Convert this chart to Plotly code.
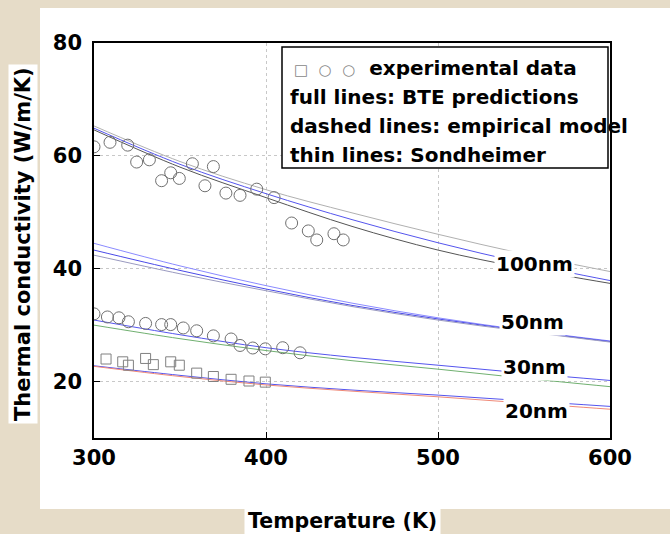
import plotly.graph_objects as go

# ---------------- data ----------------
x_ticks = [300, 400, 500, 600]
x_tick_labels = ["300", "400", "500", "600"]
y_ticks = [20, 40, 60, 80]
y_tick_labels = ["20", "40", "60", "80"]

# experimental data
T_exp_100 = [300, 309.3, 319.6, 324.8, 332.2, 339.3, 344.6, 349.6, 357.2, 364.5,
             369.4, 376.7, 384.9, 394.6, 404.7, 414.9, 424.6, 429.5, 439.5, 444.9]
k_exp_100 = [61.6, 62.4, 61.9, 58.9, 59.3, 55.6, 57.0, 56.0, 58.6, 54.7,
             58.1, 53.4, 53.0, 54.1, 52.6, 48.1, 46.7, 45.1, 46.2, 45.1]

T_exp_30 = [300, 307.8, 314.5, 320, 330, 339.3, 344.6, 351.9, 359.7, 369.4,
            379.7, 384.9, 392.3, 399.6, 409.7, 419.8]
k_exp_30 = [32.0, 31.45, 31.3, 30.6, 30.3, 30.1, 30.1, 29.5, 29.0, 28.1,
            27.55, 26.4, 25.95, 25.8, 26.0, 25.1]

T_exp_20 = [307, 316.7, 320, 330, 334.5, 344.6, 349.6, 359.7, 369.4, 379.7, 390.1, 399.6]
k_exp_20 = [24.0, 23.5, 22.9, 24.1, 23.0, 23.5, 22.9, 21.5, 20.9, 20.4, 20.1, 19.9]

# model curves
T_line = [300, 350, 400, 450, 500, 550, 600]
k100_a = [65.3, 59.0, 54.0, 49.9, 46.1, 42.6, 39.5]
k100_b = [64.9, 58.5, 53.3, 48.7, 44.6, 41.0, 37.9]
k100_c = [64.6, 58.0, 52.6, 47.5, 43.3, 40.1, 37.4]

k50_a = [44.5, 40.5, 37.0, 33.9, 31.3, 29.1, 27.2]
k50_b = [43.3, 39.7, 36.4, 33.5, 31.1, 29.0, 27.1]
k50_c = [42.4, 39.1, 36.1, 33.3, 30.9, 28.9, 27.0]

k30_a = [30.9, 28.3, 26.0, 24.3, 22.9, 21.5, 20.2]
k30_b = [30.0, 27.6, 25.5, 23.7, 22.2, 20.6, 19.1]

k20_a = [22.8, 21.1, 19.6, 18.5, 17.6, 16.6, 15.6]
k20_b = [22.7, 20.9, 19.4, 18.3, 17.3, 16.2, 15.1]

size_labels = ["100nm", "50nm", "30nm", "20nm"]
size_label_T = [556, 555, 556, 557]
size_label_k = [40.9, 30.6, 22.5, 14.7]

legend_lines = [
    "experimental data",
    "full lines: BTE predictions",
    "dashed lines: empirical model",
    "thin lines: Sondheimer",
]

# ---------------- figure ----------------
FONT = "DejaVu Sans"
BG = "#E6DCC8"
fig = go.Figure()

def add_line(y, color, width=1.0):
    fig.add_trace(go.Scatter(x=T_line, y=y, mode="lines", line=dict(color=color, width=width, shape="spline"),
                             showlegend=False, hoverinfo="skip"))

add_line(k100_a, "#b0b0b0")
add_line(k100_b, "#5555ee")
add_line(k100_c, "#555555")
add_line(k50_a, "#8a8aff")
add_line(k50_b, "#4a4ae8")
add_line(k50_c, "#9a9ac0")
add_line(k30_a, "#5555ee")
add_line(k30_b, "#70b070")
add_line(k20_a, "#5555ee")
add_line(k20_b, "#f08a78")

mk_circle = dict(symbol="circle-open", size=12, color="#707070", line=dict(width=1, color="#707070"))
mk_square = dict(symbol="square-open", size=10, color="#808080", line=dict(width=1, color="#808080"))
fig.add_trace(go.Scatter(x=T_exp_100, y=k_exp_100, mode="markers", marker=mk_circle, showlegend=False))
fig.add_trace(go.Scatter(x=T_exp_30, y=k_exp_30, mode="markers", marker=mk_circle, showlegend=False))
fig.add_trace(go.Scatter(x=T_exp_20, y=k_exp_20, mode="markers", marker=mk_square, showlegend=False))

# plot pixel geometry: x 94..610, y 43..438
L, R, T, B = 94, 610, 43, 438
W, H = R - L, B - T
def px(x):
    return (x - L) / W
def py(y):
    return (B - y) / H

shapes = [
    dict(type="rect", xref="paper", yref="paper", x0=px(40), x1=px(672), y0=py(509), y1=py(8),
         fillcolor="white", line=dict(width=0), layer="below"),
    dict(type="rect", xref="paper", yref="paper", x0=px(282), x1=px(608), y0=py(168), y1=py(47),
         fillcolor="white", line=dict(color="black", width=1.5), layer="above"),
]

annotations = []
for lbl, tx, ky in zip(size_labels, size_label_T, size_label_k):
    annotations.append(dict(x=tx, y=ky, xref="x", yref="y", text=lbl, showarrow=False,
                            xanchor="center", yanchor="middle",
                            font=dict(family=FONT, size=20, color="black", weight="bold"),
                            bgcolor="white", borderpad=1))

leg_y = [68, 97, 126, 155]
annotations.append(dict(x=px(292), y=py(leg_y[0]), xref="paper", yref="paper", xanchor="left", yanchor="middle",
                        text='<span style="color:#888888;font-size:15px">□  ○  ○</span>  ' + legend_lines[0],
                        showarrow=False,
                        font=dict(family=FONT, size=20, color="black", weight="bold")))
for t, yy in zip(legend_lines[1:], leg_y[1:]):
    annotations.append(dict(x=px(288), y=py(yy), xref="paper", yref="paper", xanchor="left", yanchor="middle",
                            text=t, showarrow=False,
                            font=dict(family=FONT, size=20, color="black", weight="bold")))

annotations.append(dict(x=px(23), y=py(244), xref="paper", yref="paper", text="Thermal conductivity (W/m/K)",
                        xanchor="center", yanchor="middle",
                        textangle=-90, showarrow=False, bgcolor="white", borderpad=2,
                        font=dict(family=FONT, size=21, color="black", weight="bold")))
annotations.append(dict(x=px(342), y=py(521), xref="paper", yref="paper", text="Temperature (K)",
                        xanchor="center", yanchor="middle",
                        showarrow=False, bgcolor="white", borderpad=3,
                        font=dict(family=FONT, size=20.5, color="black", weight="bold")))

fig.update_layout(
    width=670, height=534,
    margin=dict(l=L, r=670 - R, t=T, b=534 - B, pad=0),
    paper_bgcolor=BG, plot_bgcolor="white",
    shapes=shapes, annotations=annotations,
    font=dict(family=FONT, size=20, color="black", weight="bold"),
)
fig.update_xaxes(range=[300, 600], tickvals=x_ticks, ticktext=x_tick_labels,
                 showline=True, mirror=True, linecolor="black", linewidth=1.5,
                 ticks="inside", ticklen=6, tickcolor="black",
                 showgrid=True, gridcolor="#c8c8c8", griddash="dot", gridwidth=1, zeroline=False,
                 tickfont=dict(family=FONT, size=21, weight="bold"))
fig.update_yaxes(range=[10, 80], tickvals=y_ticks, ticktext=y_tick_labels,
                 showline=True, mirror=True, linecolor="black", linewidth=1.5,
                 ticks="inside", ticklen=6, tickcolor="black", ticklabelstandoff=6,
                 showgrid=True, gridcolor="#c8c8c8", griddash="dot", gridwidth=1, zeroline=False,
                 tickfont=dict(family=FONT, size=21, weight="bold"))

fig.write_html("out.html", config={"displayModeBar": False},
               post_script="document.body.style.margin='0';document.body.style.padding='0';"
                           "document.body.style.background='%s';" % BG)
